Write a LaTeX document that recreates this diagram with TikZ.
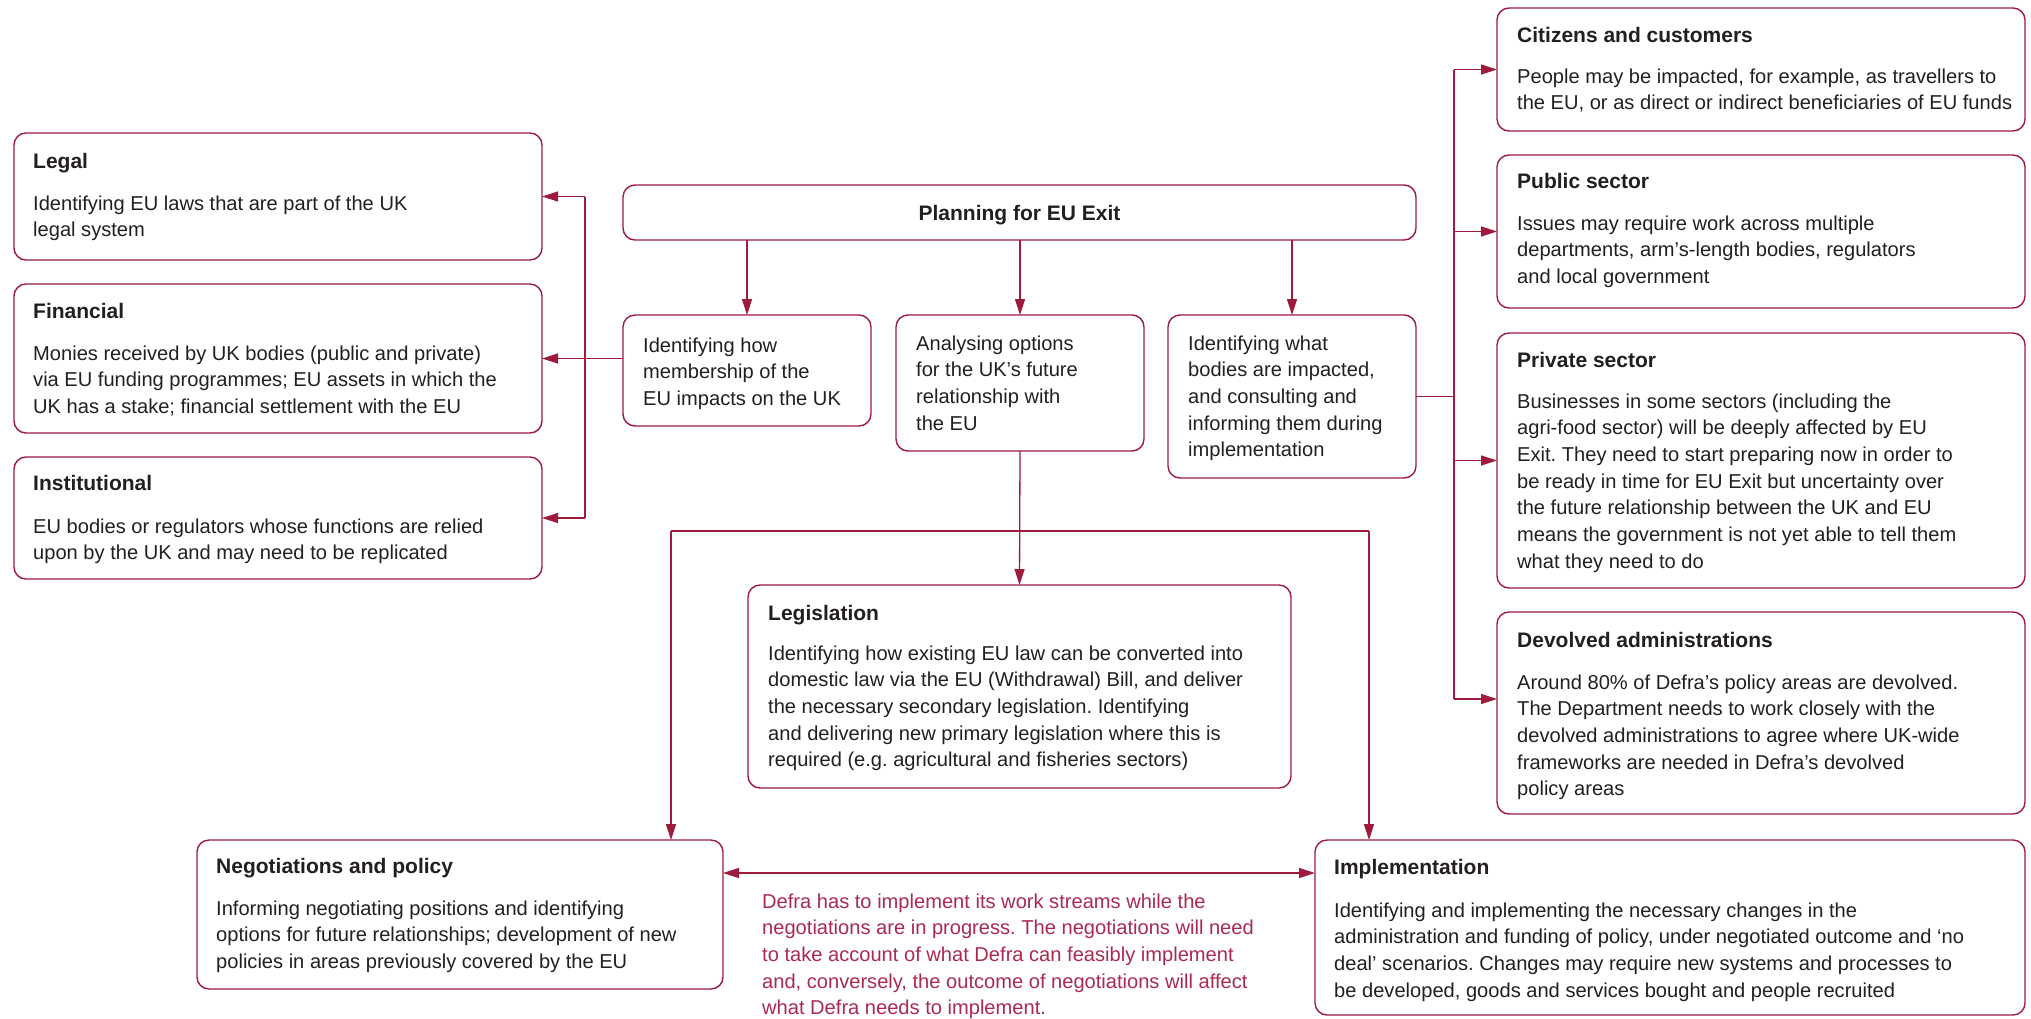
\documentclass[tikz,border=0pt]{standalone}
\usepackage{fontspec}
\setmainfont{Liberation Sans}
\usetikzlibrary{arrows.meta}
\definecolor{crim}{RGB}{158,27,62}
\definecolor{redtxt}{RGB}{170,42,80}
\definecolor{txt}{RGB}{35,31,32}
\frenchspacing
\newcommand{\bodyfnt}{\fontsize{20.1pt}{26.7pt}\selectfont}
\newcommand{\ttlfnt}{\fontsize{21pt}{26.7pt}\selectfont\bfseries}
\newcommand{\btext}[1]{\parbox[t]{760pt}{\raggedright\frenchspacing #1}}
\tikzset{
  box/.style={draw=crim, line width=1.4pt, rounded corners=12pt, inner sep=0pt, outer sep=0pt, anchor=north west},
  ttl/.style={anchor=base west, inner sep=0pt, font=\ttlfnt, text=txt},
  bdy/.style={anchor=base west, inner sep=0pt, font=\bodyfnt, text=txt},
  conn/.style={draw=crim, line width=1.3pt},
  arr/.style={conn, -{Triangle[length=16pt,width=10pt]}},
  darr/.style={conn, {Triangle[length=16pt,width=10pt]}-{Triangle[length=16pt,width=10pt]}},
}
\begin{document}
\begin{tikzpicture}[x=1pt,y=-1pt]
\useasboundingbox (0,0) rectangle (2031,1018);
\fill[white] (0,0) rectangle (2031,1018);

% boxes
\node[box, minimum width=528pt, minimum height=127pt] (legal) at (14,133) {};
\node[box, minimum width=528pt, minimum height=149pt] (financial) at (14,284) {};
\node[box, minimum width=528pt, minimum height=122pt] (institutional) at (14,457) {};
\node[box, minimum width=793pt, minimum height=55pt] (planning) at (623,185) {};
\node[box, minimum width=248pt, minimum height=111pt] (howmem) at (623,315) {};
\node[box, minimum width=248pt, minimum height=136pt] (options) at (896,315) {};
\node[box, minimum width=248pt, minimum height=163pt] (bodies) at (1168,315) {};
\node[box, minimum width=528pt, minimum height=123pt] (citizens) at (1497,8) {};
\node[box, minimum width=528pt, minimum height=153pt] (public) at (1497,155) {};
\node[box, minimum width=528pt, minimum height=255pt] (private) at (1497,333) {};
\node[box, minimum width=528pt, minimum height=202pt] (devolved) at (1497,612) {};
\node[box, minimum width=543pt, minimum height=203pt] (legislation) at (748,585) {};
\node[box, minimum width=526pt, minimum height=149pt] (negotiations) at (197,840) {};
\node[box, minimum width=710pt, minimum height=175pt] (implementation) at (1315,840) {};

% texts
\node[ttl] (legalT) at (33,168) {Legal};
\node[bdy] (legalB) at (33,210) {\btext{Identifying EU laws that are part of the UK\\legal system}};
\node[ttl] (finT) at (33,318) {Financial};
\node[bdy] (finB) at (33,360) {\btext{Monies received by UK bodies (public and private)\\via EU funding programmes; EU assets in which the\\UK has a stake; financial settlement with the EU}};
\node[ttl] (instT) at (33,490) {Institutional};
\node[bdy] (instB) at (33,533) {\btext{EU bodies or regulators whose functions are relied\\upon by the UK and may need to be replicated}};
\node[ttl, anchor=base] (planT) at (1019.5,220) {Planning for EU Exit};
\node[bdy] (howB) at (643,352) {\btext{Identifying how\\membership of the\\EU impacts on the UK}};
\node[bdy] (optB) at (916,350) {\btext{Analysing options\\for the UK’s future\\relationship with\\the EU}};
\node[bdy] (bodB) at (1188,350) {\btext{Identifying what\\bodies are impacted,\\and consulting and\\informing them during\\implementation}};
\node[ttl] (citT) at (1517,42) {Citizens and customers};
\node[bdy] (citB) at (1517,83) {\btext{People may be impacted, for example, as travellers to\\the EU, or as direct or indirect beneficiaries of EU funds}};
\node[ttl] (pubT) at (1517,188) {Public sector};
\node[bdy] (pubB) at (1517,230) {\btext{Issues may require work across multiple\\departments, arm’s-length bodies, regulators\\and local government}};
\node[ttl] (priT) at (1517,367) {Private sector};
\node[bdy] (priB) at (1517,408) {\btext{Businesses in some sectors (including the\\agri-food sector) will be deeply affected by EU\\Exit. They need to start preparing now in order to\\be ready in time for EU Exit but uncertainty over\\the future relationship between the UK and EU\\means the government is not yet able to tell them\\what they need to do}};
\node[ttl] (devT) at (1517,647) {Devolved administrations};
\node[bdy] (devB) at (1517,689) {\btext{Around 80\% of Defra’s policy areas are devolved.\\The Department needs to work closely with the\\devolved administrations to agree where UK-wide\\frameworks are needed in Defra’s devolved\\policy areas}};
\node[ttl] (legT) at (768,620) {Legislation};
\node[bdy] (legB) at (768,660) {\btext{Identifying how existing EU law can be converted into\\domestic law via the EU (Withdrawal) Bill, and deliver\\the necessary secondary legislation. Identifying\\and delivering new primary legislation where this is\\required (e.g. agricultural and fisheries sectors)}};
\node[ttl] (negT) at (216,873) {Negotiations and policy};
\node[bdy] (negB) at (216,915) {\btext{Informing negotiating positions and identifying\\options for future relationships; development of new\\policies in areas previously covered by the EU}};
\node[ttl] (impT) at (1334,874) {Implementation};
\node[bdy] (impB) at (1334,917) {\btext{Identifying and implementing the necessary changes in the\\administration and funding of policy, under negotiated outcome and ‘no\\deal’ scenarios. Changes may require new systems and processes to\\be developed, goods and services bought and people recruited}};
\node[bdy, text=redtxt] (note) at (762,908) {\btext{Defra has to implement its work streams while the\\negotiations are in progress. The negotiations will need\\to take account of what Defra can feasibly implement\\and, conversely, the outcome of negotiations will affect\\what Defra needs to implement.}};

% junction coordinates
\coordinate (lbus) at (585,0);
\coordinate (rbus) at (1454,0);
\coordinate (split) at (0,531);
\coordinate (negx) at (671,0);
\coordinate (impx) at (1369,0);
\coordinate (mid) at (0,873);

% planning -> three
\draw[arr] (planning.south -| howmem.north) -- (howmem.north);
\draw[arr] (planning.south -| options.north) -- (options.north);
\draw[arr] (planning.south -| bodies.north) -- (bodies.north);

% left bus
\draw[arr] (financial.east -| howmem.west) -- (financial.east);
\draw[conn] (lbus |- legal.east) -- (lbus |- institutional.east);
\draw[arr] (lbus |- legal.east) -- (legal.east);
\draw[arr] (lbus |- institutional.east) -- (institutional.east);

% right bus
\draw[conn] (bodies.east) -- (rbus |- bodies.east);
\draw[conn] (rbus |- citizens.west) -- ([yshift=14pt]rbus |- devolved.west);
\draw[arr] (rbus |- citizens.west) -- (citizens.west);
\draw[arr] (rbus |- public.west) -- (public.west);
\draw[arr] (rbus |- private.west) -- (private.west);
\draw[arr] ([yshift=14pt]rbus |- devolved.west) -- ([yshift=14pt]devolved.west);

% options -> legislation and split
\draw[arr] (options.south) -- (legislation.north);
\draw[conn] (negx |- split) -- (impx |- split);
\draw[arr] (negx |- split) -- (negx |- negotiations.north);
\draw[arr] (impx |- split) -- (impx |- implementation.north);

% double arrow
\draw[darr] (negotiations.east |- mid) -- (implementation.west |- mid);
\end{tikzpicture}
\end{document}
